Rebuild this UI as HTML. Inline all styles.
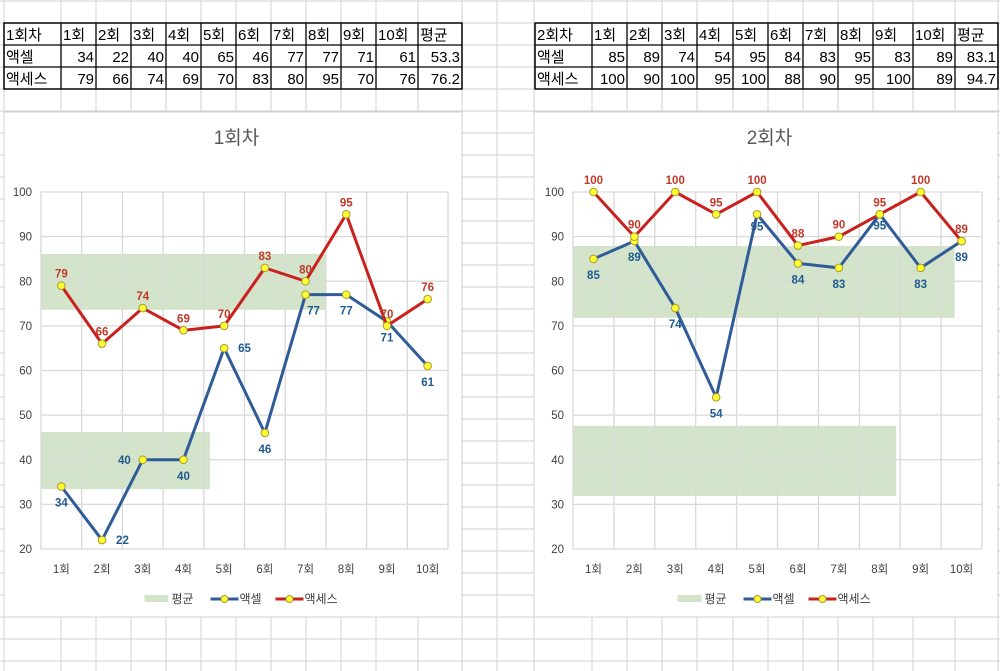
<!DOCTYPE html>
<html><head><meta charset="utf-8">
<style>
body{margin:0;background:#fff;}
svg{display:block;font-family:"Liberation Sans","Noto Sans CJK KR",sans-serif;}
</style></head>
<body>
<svg id="page" width="1000" height="671" viewBox="0 0 1000 671" xmlns="http://www.w3.org/2000/svg">
<g id="grid"></g>
<g id="tables"></g>
<g id="charts"></g>
</svg>
<script>
const NS='http://www.w3.org/2000/svg';
const categories=['1회','2회','3회','4회','5회','6회','7회','8회','9회','10회'];
const yTicks=[20,30,40,50,60,70,80,90,100];
const r1Excel=[34,22,40,40,65,46,77,77,71,61];
const r1Access=[79,66,74,69,70,83,80,95,70,76];
const r1Avg=['53.3','76.2'];
const r2Excel=[85,89,74,54,95,84,83,95,83,89];
const r2Access=[100,90,100,95,100,88,90,95,100,89];
const r2Avg=['83.1','94.7'];
// bands: [low, high, extent in categories from left edge]
const r1Bands=[[73.6,86.1,7.0],[33.4,46.2,4.15]];
const r2Bands=[[71.8,87.9,9.33],[31.9,47.6,7.9]];

function mk(tag,attrs,parent,text){const e=document.createElementNS(NS,tag);for(const k in attrs)e.setAttribute(k,attrs[k]);if(text!==undefined)e.textContent=text;parent.appendChild(e);return e;}

// sheet grid
const grid=document.getElementById('grid');
const colLines=[4,61,96,131,166,201,236,271,306,341,376,418,462,497,534,592,627,662,697,733,768,803,838,873,913,955,998];
for(let y=1;y<671;y+=22){const l=mk('line',{x1:0,x2:1000,y1:y,y2:y,stroke:'#d0d0d0','stroke-width':1},grid);}
colLines.forEach(x=>{const l=mk('line',{x1:x,x2:x,y1:0,y2:671,stroke:'#d0d0d0','stroke-width':1},grid);});

// tables
const tables=document.getElementById('tables');
function table(cols,title,ex,ac,avg,name){
  const g=mk('g',{},tables);
  const rows=[[title,...categories,'평균'],['액셀',...ex,avg[0]],['액세스',...ac,avg[1]]];
  const ys=[23,45,67,89];
  mk('rect',{x:cols[0],y:23,width:cols[cols.length-1]-cols[0],height:66,fill:'#fff',stroke:'#000','stroke-width':1.3},g);
  ys.forEach(y=>mk('line',{x1:cols[0],x2:cols[cols.length-1],y1:y,y2:y,stroke:'#000','stroke-width':1.3},g));
  cols.forEach(x=>mk('line',{x1:x,x2:x,y1:23,y2:89,stroke:'#000','stroke-width':1.3},g));
  rows.forEach((r,ri)=>r.forEach((v,ci)=>{
    const num=ri>0&&ci>0;
    const t=mk('text',{x:num?cols[ci+1]-2:cols[ci]+2,y:ys[ri]+17,'font-size':15,'text-anchor':num?'end':'start',fill:'#000'},g,String(v));
    
  }));
}
table([4,61,96,131,166,201,236,271,306,341,376,418,462],'1회차',r1Excel,r1Access,r1Avg,'table-round1');
table([535,592,627,662,697,733,768,803,838,873,913,955,998],'2회차',r2Excel,r2Access,r2Avg,'table-round2');

// charts
const charts=document.getElementById('charts');
function chart(o){
  const g=mk('g',{},charts);
  mk('rect',{x:o.cx,y:112,width:o.cw,height:505,fill:'#fff',stroke:'#d0d0d0'},g);
  const L=o.left,R=o.right,T=192,B=549,n=categories.length,step=(R-L)/n;
  const xs=i=>L+step*(i+0.5), ys=v=>B-(v-20)/80*(B-T);
  const title=mk('text',{x:(L+R)/2-8,y:144,'font-size':19,'text-anchor':'middle',fill:'#595959'},g,o.title);
  
  o.bands.forEach(b=>{const r=mk('rect',{x:L,y:ys(b[1]),width:step*b[2],height:ys(b[0])-ys(b[1]),fill:'#d3e4ca'},g);});
  yTicks.forEach(v=>{
    mk('line',{x1:L,x2:R,y1:ys(v),y2:ys(v),stroke:'#d9d9d9','stroke-width':1.3},g);
    const t=mk('text',{x:L-9,y:ys(v)+4,'font-size':11.5,'text-anchor':'end',fill:'#404040'},g,String(v));
    
  });
  for(let i=0;i<=n;i++)mk('line',{x1:L+step*i,x2:L+step*i,y1:T,y2:B,stroke:'#d9d9d9','stroke-width':1.3},g);
  categories.forEach((c,i)=>{const t=mk('text',{x:xs(i),y:573,'font-size':11.5,'text-anchor':'middle',fill:'#404040'},g,c);});
  function series(vals,col,lcol,offs,nm){
    const sg=mk('g',{},g);
    mk('polyline',{points:vals.map((v,i)=>xs(i)+','+ys(v)).join(' '),fill:'none',stroke:col,'stroke-width':3,'stroke-linejoin':'round'},sg);
    vals.forEach((v,i)=>{
      const c=mk('circle',{cx:xs(i),cy:ys(v),r:3.8,fill:'#ffff33',stroke:'#a89a2c','stroke-width':1},sg);
      
      const of=offs[i]||[0,-12];
      const t=mk('text',{x:xs(i)+of[0],y:ys(v)+of[1]+4,'font-size':11.5,'font-weight':'bold','text-anchor':of[2]||'middle',fill:lcol},sg,String(v));
      
    });
  }
  series(o.ex,'#2f5c98','#1f5a8f',o.exOff,'series-excel');
  series(o.ac,'#c9211e','#c0392b',o.acOff,'series-access');
  const lg=mk('g',{},g);
  const lx=(L+R)/2-100;
  mk('rect',{x:lx,y:595,width:24,height:7,fill:'#d3e4ca'},lg);
  mk('text',{x:lx+27,y:603,'font-size':12,fill:'#404040'},lg,'평균');
  mk('line',{x1:lx+66,x2:lx+94,y1:599,y2:599,stroke:'#2f5c98','stroke-width':3},lg);
  mk('circle',{cx:lx+80,cy:599,r:3.5,fill:'#ffff33',stroke:'#a89a2c'},lg);
  mk('text',{x:lx+95,y:603,'font-size':12,fill:'#404040'},lg,'액셀');
  mk('line',{x1:lx+131,x2:lx+159,y1:599,y2:599,stroke:'#c9211e','stroke-width':3},lg);
  mk('circle',{cx:lx+145,cy:599,r:3.5,fill:'#ffff33',stroke:'#a89a2c'},lg);
  mk('text',{x:lx+160,y:603,'font-size':12,fill:'#404040'},lg,'액세스');
}
const dn=[0,16];
chart({name:'chart-round1',title:'1회차',cx:4,cw:458,left:41,right:448,ex:r1Excel,ac:r1Access,bands:r1Bands,
  exOff:[dn,[14,0,'start'],[-12,0,'end'],dn,[14,0,'start'],dn,[8,16],dn,dn,dn],acOff:[]});
chart({name:'chart-round2',title:'2회차',cx:534,cw:464,left:573,right:982,ex:r2Excel,ac:r2Access,bands:r2Bands,
  exOff:[dn,dn,dn,dn,[0,12],dn,dn,[0,11],dn,dn],acOff:[]});
</script>
</body></html>
